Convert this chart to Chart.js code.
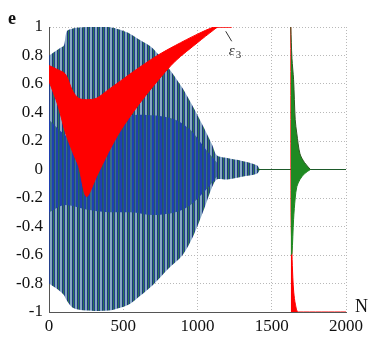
<!DOCTYPE html>
<html>
<head>
<meta charset="utf-8">
<style>
  body { margin: 0; background: #fff; }
</style>
</head>
<body>
<canvas id="eChart" width="381" height="350"></canvas>

<script src="https://cdn.jsdelivr.net/npm/chart.js"></script>
<script>
// envelope of the blue/green oscillation
var blueN     = [0, 70, 100, 120, 160, 250, 400, 480, 550, 610, 700, 800, 900, 970, 1040, 1100, 1130, 1200, 1300, 1400, 1420];
var blueUpper = [0.80, 0.85, 0.87, 0.97, 0.99, 1.0, 1.0, 0.98, 0.95, 0.91, 0.85, 0.72, 0.57, 0.44, 0.30, 0.17, 0.10, 0.08, 0.06, 0.03, 0];
var blueLower = [-0.80, -0.85, -0.88, -0.92, -0.97, -0.99, -0.99, -0.97, -0.94, -0.89, -0.81, -0.70, -0.60, -0.47, -0.29, -0.12, -0.07, -0.07, -0.05, -0.03, 0];

// darker core of the oscillation
var coreN     = [0, 100, 250, 400, 550, 700, 850, 950, 1050, 1130];
var coreUpper = [0.35, 0.25, 0.15, 0.32, 0.38, 0.38, 0.35, 0.28, 0.15, 0.05];
var coreLower = [-0.30, -0.25, -0.28, -0.30, -0.30, -0.32, -0.30, -0.25, -0.15, -0.05];

// red band (eps3)
var redN      = [0, 60, 110, 160, 200, 252, 320, 400, 480, 600, 730, 850, 1000, 1110, 1140, 1230];
var redTop    = [0.73, 0.70, 0.67, 0.55, 0.50, 0.49, 0.50, 0.56, 0.62, 0.71, 0.80, 0.87, 0.95, 1.0, 1.0, 1.0];
var redBottom = [0.62, 0.45, 0.26, 0.12, 0.02, -0.19, -0.05, 0.12, 0.27, 0.45, 0.62, 0.76, 0.89, 0.98, 1.0, 1.0];

// burst near N = 1630
var spikeN     = [1628, 1636, 1647, 1658, 1669, 1690, 1720, 1760];
var spikeUpper = [1.0, 0.78, 0.63, 0.35, 0.25, 0.11, 0.05, 0];
var spikeLower = [-0.60, -0.59, -0.35, -0.20, -0.12, -0.07, -0.03, 0];

var redDropN = [1628, 1630, 1636, 1642, 1648, 1660, 1680, 2000];
var redDrop  = [1.0, -0.30, -0.59, -0.76, -0.86, -0.95, -1.0, -1.0];

var zeroN = [1400, 2000];
var zeroE = [0, 0];

var xTickLabels = ['0', '500', '1000', '1500', '2000'];
var yTickLabels = ['-1', '-0.8', '-0.6', '-0.4', '-0.2', '0', '0.2', '0.4', '0.6', '0.8', '1'];

function pts(xs, ys) {
    return xs.map(function (x, i) { return { x: x, y: ys[i] }; });
}

function stripes(colors, widths) {
    var c = document.createElement('canvas');
    var total = widths.reduce(function (a, b) { return a + b; }, 0);
    c.width = total;
    c.height = 4;
    var g = c.getContext('2d');
    var x = 0;
    colors.forEach(function (col, i) {
        g.fillStyle = col;
        g.fillRect(x, 0, widths[i], 4);
        x += widths[i];
    });
    return g.createPattern(c, 'repeat');
}

var outerFill = stripes(['#86a8c4', '#1d3580', '#2f7a4f', '#23408c'], [2, 1, 1, 1]);
var coreFill = stripes(['#1f3fb0', '#22703e', '#2546a8'], [2.5, 1, 1]);

function band(data, color, fill, width) {
    return {
        data: data,
        borderColor: color,
        backgroundColor: color,
        borderWidth: width,
        pointRadius: 0,
        fill: fill,
        tension: 0.3
    };
}

var datasets = [
    band(pts(redN, redTop), '#ff0000', '+1', 1),
    band(pts(redN, redBottom), '#ff0000', false, 1),
    band(pts(spikeN, spikeUpper), '#1f8a22', '+1', 1),
    band(pts(spikeN, spikeLower), '#1f8a22', false, 1),
    band(pts(redDropN, redDrop), '#ff0000', { value: -1 }, 1),
    band(pts(zeroN, zeroE), '#1d5a2a', false, 1.2),
    band(pts(coreN, coreUpper), coreFill, '+1', 0),
    band(pts(coreN, coreLower), coreFill, false, 0),
    band(pts(blueN, blueUpper), outerFill, '+1', 0),
    band(pts(blueN, blueLower), outerFill, false, 0)
];
datasets[2].borderColor = '#2a5a20';
datasets[6].borderColor = '#1f40a4';
datasets[8].borderColor = '#1c3580';

var serif = "'Liberation Serif', 'Times New Roman', serif";

// axis letters and the eps3 callout
var labels = {
    id: 'labels',
    afterDraw: function (chart) {
        var ctx = chart.ctx;
        var xs = chart.scales.x, ys = chart.scales.y;
        ctx.save();
        ctx.fillStyle = '#111';
        ctx.textBaseline = 'alphabetic';
        ctx.font = 'bold 18px ' + serif;
        ctx.fillText('e', 8, 24);
        ctx.font = '18px ' + serif;
        ctx.fillText('N', 355, 312);

        var px = xs.getPixelForValue(1190), py = ys.getPixelForValue(0.97);
        ctx.strokeStyle = '#333';
        ctx.lineWidth = 1;
        ctx.beginPath();
        ctx.moveTo(px, py);
        ctx.lineTo(px + 6, py + 10);
        ctx.stroke();
        ctx.font = 'italic 15px ' + serif;
        ctx.fillStyle = '#333';
        ctx.fillText('\u03B5', px + 3, py + 24);
        ctx.font = '11px ' + serif;
        ctx.fillText('3', px + 10, py + 27);
        ctx.restore();
    }
};

new Chart(document.getElementById('eChart').getContext('2d'), {
    type: 'line',
    data: { datasets: datasets },
    options: {
        responsive: false,
        animation: false,
        layout: { padding: { top: 27, right: 35, left: 0, bottom: 0 } },
        plugins: { legend: { display: false }, tooltip: { enabled: false } },
        scales: {
            x: {
                type: 'linear',
                min: 0, max: 2000,
                afterFit: function (s) { s.height = 38; },
                ticks: {
                    stepSize: 500,
                    padding: 4,
                    color: '#111',
                    font: { family: serif, size: 17 },
                    maxRotation: 0,
                    callback: function (v, i) { return xTickLabels[i]; }
                },
                grid: { color: '#b8b8b8', drawTicks: false },
                border: { display: true, color: '#555', width: 1, dash: [1, 2] }
            },
            y: {
                min: -1, max: 1,
                afterFit: function (s) { s.width = 49; },
                ticks: {
                    stepSize: 0.2,
                    padding: 6,
                    color: '#111',
                    font: { family: serif, size: 17 },
                    callback: function (v, i) { return yTickLabels[i]; }
                },
                grid: { color: '#b8b8b8', drawTicks: false },
                border: { display: true, color: '#555', width: 1, dash: [1, 2] }
            }
        }
    },
    plugins: [labels]
});
</script>
</body>
</html>
